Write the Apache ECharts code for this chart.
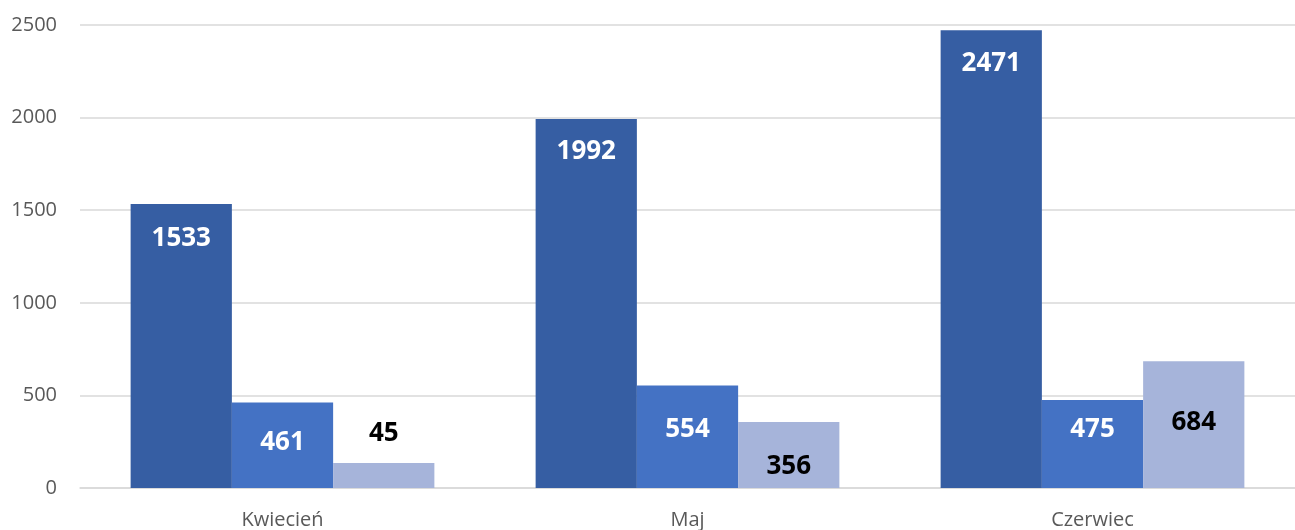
<!DOCTYPE html>
<html>
<head>
<meta charset="utf-8">
<script src="https://cdn.jsdelivr.net/npm/echarts@6/dist/echarts.min.js"></script>
<style>
html,body{margin:0;padding:0;background:#fff;}
#c{width:1295px;height:530px;}
</style>
</head>
<body>
<div id="c"></div>
<script>
const categories = ['Kwiecień', 'Maj', 'Czerwiec'];
const series1 = [1533, 1992, 2471];
const series2 = [461, 554, 475];
const series3 = [135, 356, 684];
const series3Labels = ['45', '356', '684'];
const yTicks = [0, 500, 1000, 1500, 2000, 2500];

const labelFont = 'Open Sans';
function lbl(color, position, distance, text) {
  const o = {
    show: true, position: position, distance: distance,
    color: color, fontFamily: labelFont, fontWeight: 'bold', fontSize: 26
  };
  if (text !== undefined) o.formatter = function () { return text; };
  return o;
}

const s1Dist = [22, 20, 20];
const s2Dist = [27, 31, 17];
const s3Pos = [['top', 16], ['insideTop', 32], ['insideTop', 48]];

const chart = echarts.init(document.getElementById('c'), null, {renderer: 'canvas'});
chart.setOption({
  animation: false,
  backgroundColor: '#ffffff',
  grid: {left: 80, right: 0, top: 25, bottom: 42, containLabel: false, outerBoundsMode: 'none'},
  xAxis: {
    type: 'category',
    data: categories,
    axisLine: {show: true, lineStyle: {color: '#d9d9d9', width: 1.5}},
    axisTick: {show: false},
    axisLabel: {color: '#595959', fontFamily: 'Open Sans', fontSize: 20, margin: 22}
  },
  yAxis: {
    type: 'value',
    min: yTicks[0],
    max: yTicks[yTicks.length - 1],
    interval: yTicks[1] - yTicks[0],
    axisLine: {show: false},
    axisTick: {show: false},
    splitLine: {lineStyle: {color: '#d9d9d9', width: 1.5}},
    axisLabel: {color: '#595959', fontFamily: 'Open Sans', fontSize: 20, margin: 23,
      formatter: function (v) { return String(v); }}
  },
  series: [
    {
      name: 'Seria 1', type: 'bar', barGap: '0%', barCategoryGap: '25%',
      itemStyle: {color: '#365EA3'},
      data: series1.map((v, i) => ({value: v, label: lbl('#ffffff', 'insideTop', s1Dist[i])}))
    },
    {
      name: 'Seria 2', type: 'bar', barGap: '0%', barCategoryGap: '25%',
      itemStyle: {color: '#4472C4'},
      data: series2.map((v, i) => ({value: v, label: lbl('#ffffff', 'insideTop', s2Dist[i])}))
    },
    {
      name: 'Seria 3', type: 'bar', barGap: '0%', barCategoryGap: '25%',
      itemStyle: {color: '#A6B4DA'},
      data: series3.map((v, i) => ({value: v, label: lbl('#000000', s3Pos[i][0], s3Pos[i][1], series3Labels[i])}))
    }
  ]
});
</script>
</body>
</html>
